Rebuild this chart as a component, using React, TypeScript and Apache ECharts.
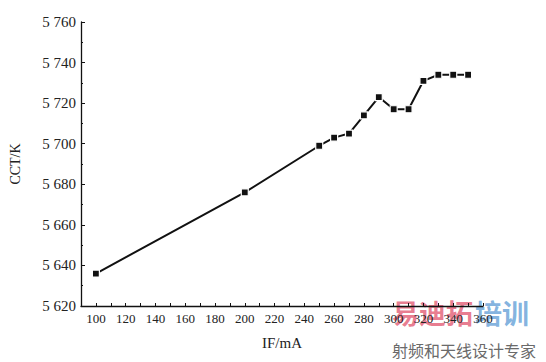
import React, { useEffect, useRef } from "react";
import * as echarts from "echarts";

const currents = [100, 200, 250, 260, 270, 280, 290, 300, 310, 320, 330, 340, 350];
const cct = [5636, 5676, 5699, 5703, 5705, 5714, 5723, 5717, 5717, 5731, 5734, 5734, 5734];
const xAxisName = "IF/mA";
const yAxisName = "CCT/K";

function fmtThousands(v: number): string {
  const s = String(v);
  if (s.length > 3) return s.slice(0, s.length - 3) + " " + s.slice(s.length - 3);
  return s;
}

export default function App() {
  const ref = useRef<HTMLDivElement>(null);
  useEffect(() => {
    if (!ref.current) return;
    const chart = echarts.init(ref.current, null, { renderer: "svg" });
    const font = "'Liberation Serif', 'DejaVu Serif', serif";
    chart.setOption({
      animation: false,
      backgroundColor: "#ffffff",
      grid: { left: 81, right: 63, top: 22, bottom: 56, containLabel: false },
      xAxis: {
        type: "value",
        min: 90,
        max: 360,
        interval: 10,
        name: xAxisName,
        nameLocation: "middle",
        nameGap: 29,
        nameTextStyle: { fontFamily: font, fontSize: 15, color: "#222" },
        axisLine: { show: true, onZero: false, lineStyle: { color: "#111", width: 1.3 } },
        axisTick: { show: true, inside: true, length: 3, lineStyle: { color: "#111" } },
        axisLabel: {
          fontFamily: font,
          fontSize: 13,
          color: "#222",
          margin: 6,
          formatter: (v: number) => (v >= 100 && v % 20 === 0 ? String(v) : ""),
        },
        splitLine: { show: false },
      },
      yAxis: {
        type: "value",
        min: 5620,
        max: 5760,
        interval: 20,
        name: yAxisName,
        nameLocation: "middle",
        nameGap: 59,
        nameTextStyle: { fontFamily: font, fontSize: 14, color: "#222" },
        axisLine: { show: true, onZero: false, lineStyle: { color: "#111", width: 1.3 } },
        axisTick: { show: true, inside: true, length: 4, lineStyle: { color: "#111" } },
        minorTick: { show: true, splitNumber: 2, length: 2, lineStyle: { color: "#111" } },
        axisLabel: {
          fontFamily: font,
          fontSize: 15,
          color: "#222",
          margin: 5,
          formatter: (v: number) => fmtThousands(v),
        },
        splitLine: { show: false },
      },
      series: [
        {
          type: "line",
          data: currents.map((c, i) => [c, cct[i]]),
          symbol: "rect",
          symbolSize: 7,
          showSymbol: true,
          lineStyle: { color: "#111", width: 2 },
          itemStyle: { color: "#111", borderColor: "#ffffff", borderWidth: 1.2 },
        },
      ],
      graphic: [
        {
          type: "text",
          left: 392,
          top: 299,
          style: {
            text: "易迪拓",
            fontFamily: "'Noto Sans CJK SC', sans-serif",
            fontSize: 27,
            fontWeight: "bold",
            fill: "rgba(226, 90, 115, 0.8)",
          },
        },
        {
          type: "text",
          left: 475,
          top: 299,
          style: {
            text: "培训",
            fontFamily: "'Noto Sans CJK SC', sans-serif",
            fontSize: 27,
            fontWeight: "bold",
            fill: "rgba(100, 160, 215, 0.8)",
          },
        },
        {
          type: "text",
          left: 392,
          top: 342,
          style: {
            text: "射频和天线设计专家",
            fontFamily: "'Noto Sans CJK SC', sans-serif",
            fontSize: 16,
            fill: "#6a6a6a",
          },
        },
      ],
    });
    return () => chart.dispose();
  }, []);
  return (
    <div
      ref={ref}
      style={{ position: "fixed", left: 0, top: 0, width: 546, height: 362 }}
    />
  );
}
